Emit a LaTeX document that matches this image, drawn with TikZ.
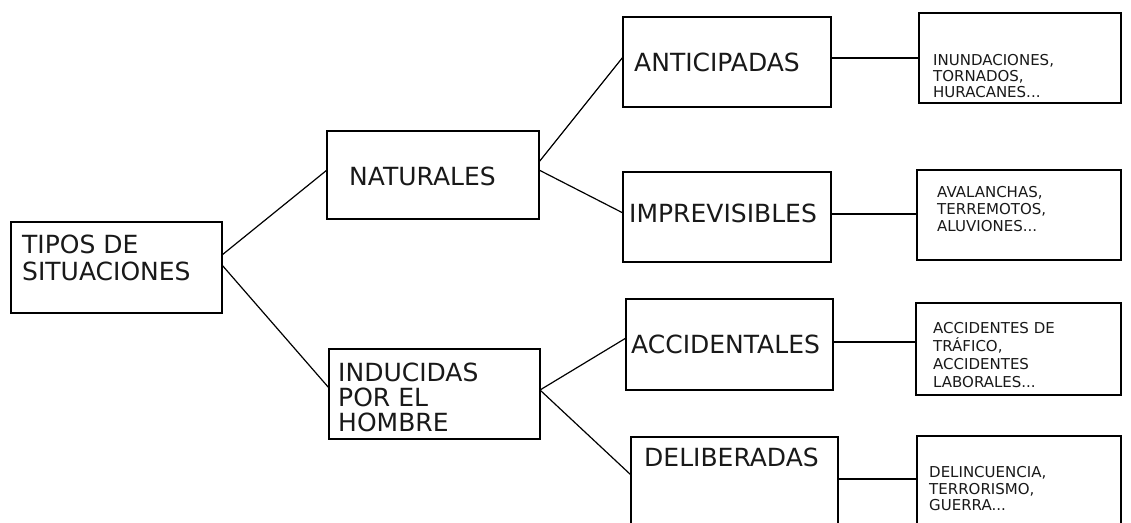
\documentclass[tikz,border=0pt]{standalone}
\usepackage{fontspec}
\setmainfont{DejaVu Sans}
\tikzset{
  box/.style={draw, line width=1.4pt, rectangle, inner sep=0pt, outer sep=0pt},
  big/.style={font=\fontsize{25}{27}\selectfont, anchor=base west, inner sep=0pt, text=black!90},
  small/.style={font=\fontsize{15}{17}\selectfont, anchor=base west, inner sep=0pt, text=black!90},
  conn/.style={line width=1.2pt}
}
\begin{document}
\begin{tikzpicture}[x=1pt, y=-1pt]
\useasboundingbox (0,0) rectangle (1131,522);
\clip (0,0) rectangle (1131,522);
\fill[white] (0,0) rectangle (1131,522);
% boxes
\node[box, minimum width=211pt, minimum height=91pt] (tipos) at (116.5,267.5) {};
\node[box, minimum width=212pt, minimum height=88pt] (nat) at (433,175) {};
\node[box, minimum width=211pt, minimum height=90pt] (ind) at (434.5,394) {};
\node[box, minimum width=208pt, minimum height=90pt] (ant) at (727,62) {};
\node[box, minimum width=208pt, minimum height=90pt] (imp) at (727,217) {};
\node[box, minimum width=207pt, minimum height=91pt] (acc) at (729.5,344.5) {};
\node[box, minimum width=207pt, minimum height=90pt] (del) at (734.5,482) {};
\node[box, minimum width=202pt, minimum height=90pt] (r1) at (1020,58) {};
\node[box, minimum width=204pt, minimum height=90pt] (r2) at (1019,215) {};
\node[box, minimum width=205pt, minimum height=92pt] (r3) at (1018.5,349) {};
\node[box, minimum width=204pt, minimum height=90pt] (r4) at (1019,481) {};
% texts
\node[big] (tTipos1) at (22,253) {TIPOS DE};
\node[big] (tTipos2) at (22,280) {SITUACIONES};
\node[big] (tNat) at (349,185) {NATURALES};
\node[big] (tInd1) at (338,381) {INDUCIDAS};
\node[big] (tInd2) at (338,406) {POR EL};
\node[big] (tInd3) at (338,431) {HOMBRE};
\node[big] (tAnt) at (634,71) {ANTICIPADAS};
\node[big] (tImp) at (629,222) {IMPREVISIBLES};
\node[big] (tAcc) at (631,353) {ACCIDENTALES};
\node[big] (tDel) at (644,466) {DELIBERADAS};
\node[small] (tR1a) at (933,65) {INUNDACIONES,};
\node[small] (tR1b) at (933,81) {TORNADOS,};
\node[small] (tR1c) at (933,97) {HURACANES...};
\node[small] (tR2a) at (937,197) {AVALANCHAS,};
\node[small] (tR2b) at (937,214) {TERREMOTOS,};
\node[small] (tR2c) at (937,231) {ALUVIONES...};
\node[small] (tR3a) at (933,333) {ACCIDENTES DE};
\node[small] (tR3b) at (933,351) {TRÁFICO,};
\node[small] (tR3c) at (933,369) {ACCIDENTES};
\node[small] (tR3d) at (933,387) {LABORALES...};
\node[small] (tR4a) at (929,477) {DELINCUENCIA,};
\node[small] (tR4b) at (929,494) {TERRORISMO,};
\node[small] (tR4c) at (929,510) {GUERRA...};
% connectors
\draw[conn] ([yshift=12.5pt]tipos.east) -- ([yshift=5pt]nat.west);
\draw[conn] ([yshift=2.5pt]tipos.east) -- ([yshift=6pt]ind.west);
\draw[conn] ([yshift=13pt]nat.east) -- ([yshift=5pt]ant.west);
\draw[conn] ([yshift=5pt]nat.east) -- ([yshift=4pt]imp.west);
\draw[conn] ([yshift=4pt]ind.east) -- ([yshift=6.5pt]acc.west);
\draw[conn] ([yshift=4pt]ind.east) -- ([yshift=7pt]del.west);
\draw[conn] ([yshift=4pt]ant.east) -- ([yshift=4pt]ant.east -| r1.west);
\draw[conn] ([yshift=3pt]imp.east) -- ([yshift=3pt]imp.east -| r2.west);
\draw[conn] ([yshift=2.5pt]acc.east) -- ([yshift=2.5pt]acc.east -| r3.west);
\draw[conn] ([yshift=3pt]del.east) -- ([yshift=3pt]del.east -| r4.west);
\end{tikzpicture}
\end{document}
